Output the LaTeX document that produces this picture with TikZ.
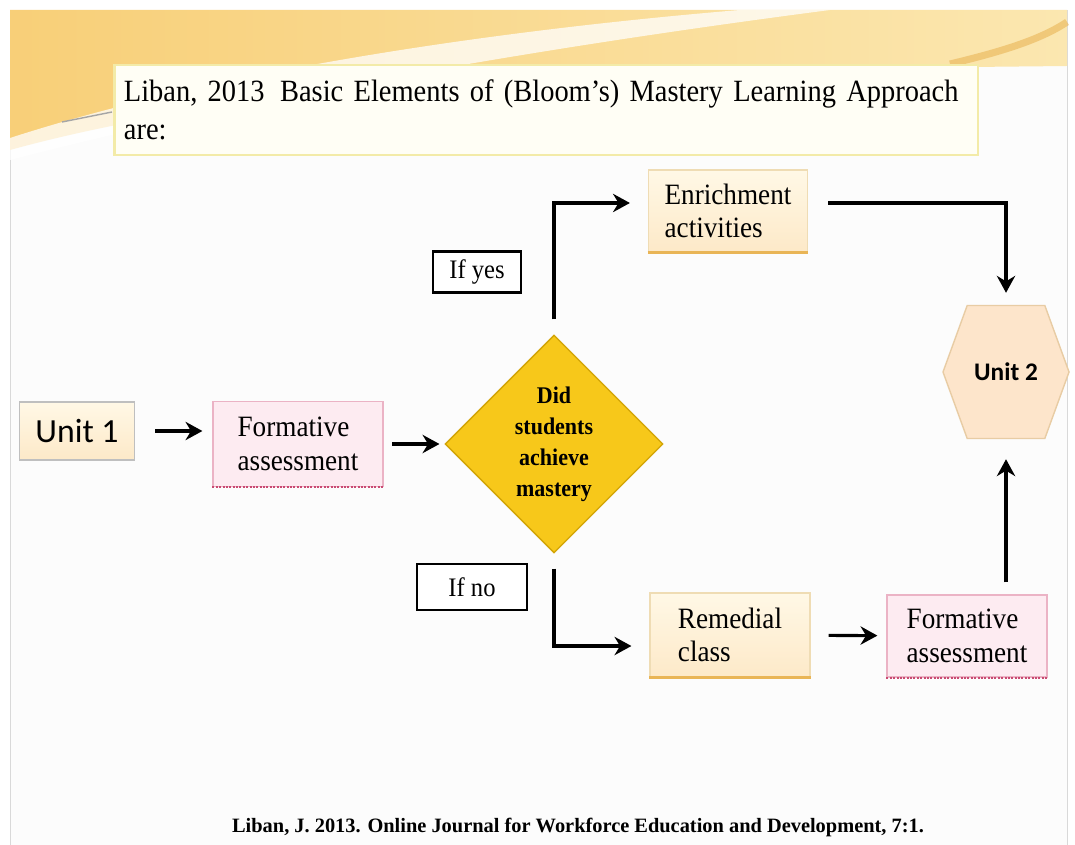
\documentclass[tikz,border=0pt]{standalone}
\usepackage{fontspec}
\setmainfont{Liberation Serif}
\newfontfamily\calib{Carlito}
\newfontfamily\tallserif[FakeStretch=0.92,Ligatures=TeX]{Liberation Serif}
\usetikzlibrary{shapes.geometric,shapes.symbols,arrows.meta}

\definecolor{slidebg}{HTML}{FCFCFC}
\definecolor{bandA}{HTML}{F8CF78}
\definecolor{bandB}{HTML}{FBE7B0}
\definecolor{titleline}{HTML}{F3EBA8}
\definecolor{creamA}{HTML}{FFF8E6}
\definecolor{creamB}{HTML}{FDE9C8}
\definecolor{creamline}{HTML}{EFDCB4}
\definecolor{orangeedge}{HTML}{E9B556}
\definecolor{pinkfill}{HTML}{FDEBF1}
\definecolor{pinkline}{HTML}{EBB3C5}
\definecolor{pinkedge}{HTML}{C94A72}
\definecolor{gold}{HTML}{F7C81A}
\definecolor{goldline}{HTML}{D2A406}
\definecolor{hexfill}{HTML}{FDE5CB}
\definecolor{hexline}{HTML}{E8CCA4}

\begin{document}
\begin{tikzpicture}[x=0.025cm,y=-0.025cm,
    box/.style={draw, rectangle, line width=0.8pt, align=left, inner xsep=0.25cm,
        font=\tallserif\fontsize{21}{24}\selectfont},
    creambox/.style={box, draw=creamline, top color=creamA, bottom color=creamB},
    pinkbox/.style={box, draw=pinkline, fill=pinkfill},
    answer/.style={draw, line width=1.6pt, fill=white, font=\tallserif\fontsize{19}{20}\selectfont},
    flow/.style={line width=2.2pt, -{Stealth[length=12pt,width=13pt]}}]
    \useasboundingbox (0,0) rectangle (1075,845);

    % slide and top band
    \fill[white] (0,0) rectangle (1075,845);
    \fill[slidebg, draw=black!15] (10,10) rectangle (1067,845);
    \shade[left color=bandA, right color=bandB] (10,10) -- (1067,10) -- (1067,66)
        .. controls (700,70) and (300,70) .. (10,150) -- cycle;
    \fill[white, opacity=.75] (10,138) .. controls (220,70) and (500,30) .. (740,10)
        -- (830,10) .. controls (560,45) and (260,95) .. (10,160) -- cycle;
    \draw[orangeedge, line width=5pt, opacity=.6] (950,64) .. controls (1000,52) and (1040,40) .. (1067,22);
    \draw[black!35, line width=1pt] (62,122) -- (112,112);

    % title and source
    \node[draw=titleline, line width=1.6pt, fill=white!96!yellow, minimum width=21.575cm,
        minimum height=2.25cm, text width=21.1cm, align=left,
        font=\tallserif\fontsize{22}{27}\selectfont] (title) at (546,110)
        {Liban, 2013\enspace Basic Elements of (Bloom’s) Mastery Learning Approach\\are:};
    \node[font=\bfseries\fontsize{14.5}{16}\selectfont] (source) at (578,827)
        {Liban, J. 2013. Online Journal for Workforce Education and Development, 7:1.};

    % boxes
    \node[creambox, font=\calib\fontsize{24}{26}\selectfont, minimum width=2.875cm,
        minimum height=1.45cm, draw=black!25] (unit1) at (77,431) {Unit 1};
    \node[pinkbox, minimum width=4.25cm, minimum height=2.125cm] (formA) at (298,444)
        {Formative\\assessment};
    \node[diamond, draw=goldline, line width=1pt, fill=gold, minimum width=5.45cm,
        minimum height=5.45cm, inner sep=0pt, align=center,
        font=\tallserif\bfseries\fontsize{17}{22}\selectfont] (check) at (554,444)
        {Did\\students\\achieve\\mastery};
    \node[creambox, minimum width=3.975cm, minimum height=2.05cm] (enrich) at (728,211)
        {Enrichment\\activities};
    \node[creambox, minimum width=4cm, minimum height=2.1cm] (remedial) at (730,635)
        {Remedial\\class};
    \node[pinkbox, minimum width=4cm, minimum height=2.05cm] (formB) at (967,636)
        {Formative\\assessment};
    \node[signal, signal to=east and west, signal pointer angle=140, draw=hexline,
        line width=1pt, fill=hexfill, minimum width=3.15cm, minimum height=3.325cm,
        font=\calib\bfseries\fontsize{18}{20}\selectfont] (unit2) at (1006,372) {Unit 2};
    \node[answer, minimum width=2.2cm, minimum height=1.025cm] (ifyes) at (477,272) {If yes};
    \node[answer, minimum width=2.75cm, minimum height=1.15cm] (ifno) at (472,587) {If no};

    % coloured lower edges
    \draw[pinkedge, line width=1.4pt, densely dotted] (formA.south west) -- (formA.south east);
    \draw[pinkedge, line width=1.4pt, densely dotted] (formB.south west) -- (formB.south east);
    \draw[orangeedge, line width=1.8pt] (enrich.south west) -- (enrich.south east);
    \draw[orangeedge, line width=1.8pt] (remedial.south west) -- (remedial.south east);

    % arrows
    \draw[flow, shorten <=0.5cm, shorten >=0.25cm] (unit1) -- (unit1 -| formA.west);
    \draw[flow, shorten <=0.22cm, shorten >=0.12cm] (formA.east |- check) -- (check.west);
    \draw[flow, shorten <=0.375cm, shorten >=0.45cm] (check.north) |- ([yshift=0.2cm]enrich.west);
    \draw[flow, shorten <=0.5cm, shorten >=0.3cm] ([yshift=0.2cm]enrich.east) -| (unit2.north);
    \draw[flow, shorten <=0.375cm, shorten >=0.45cm] (check.south) |- ([yshift=-0.275cm]remedial.west);
    \draw[flow, shorten <=0.45cm, shorten >=0.225cm] (remedial) -- (formB);
    \draw[flow, shorten <=0.3cm, shorten >=0.5cm] (formB.north -| unit2.south) -- (unit2.south);
\end{tikzpicture}
\end{document}
